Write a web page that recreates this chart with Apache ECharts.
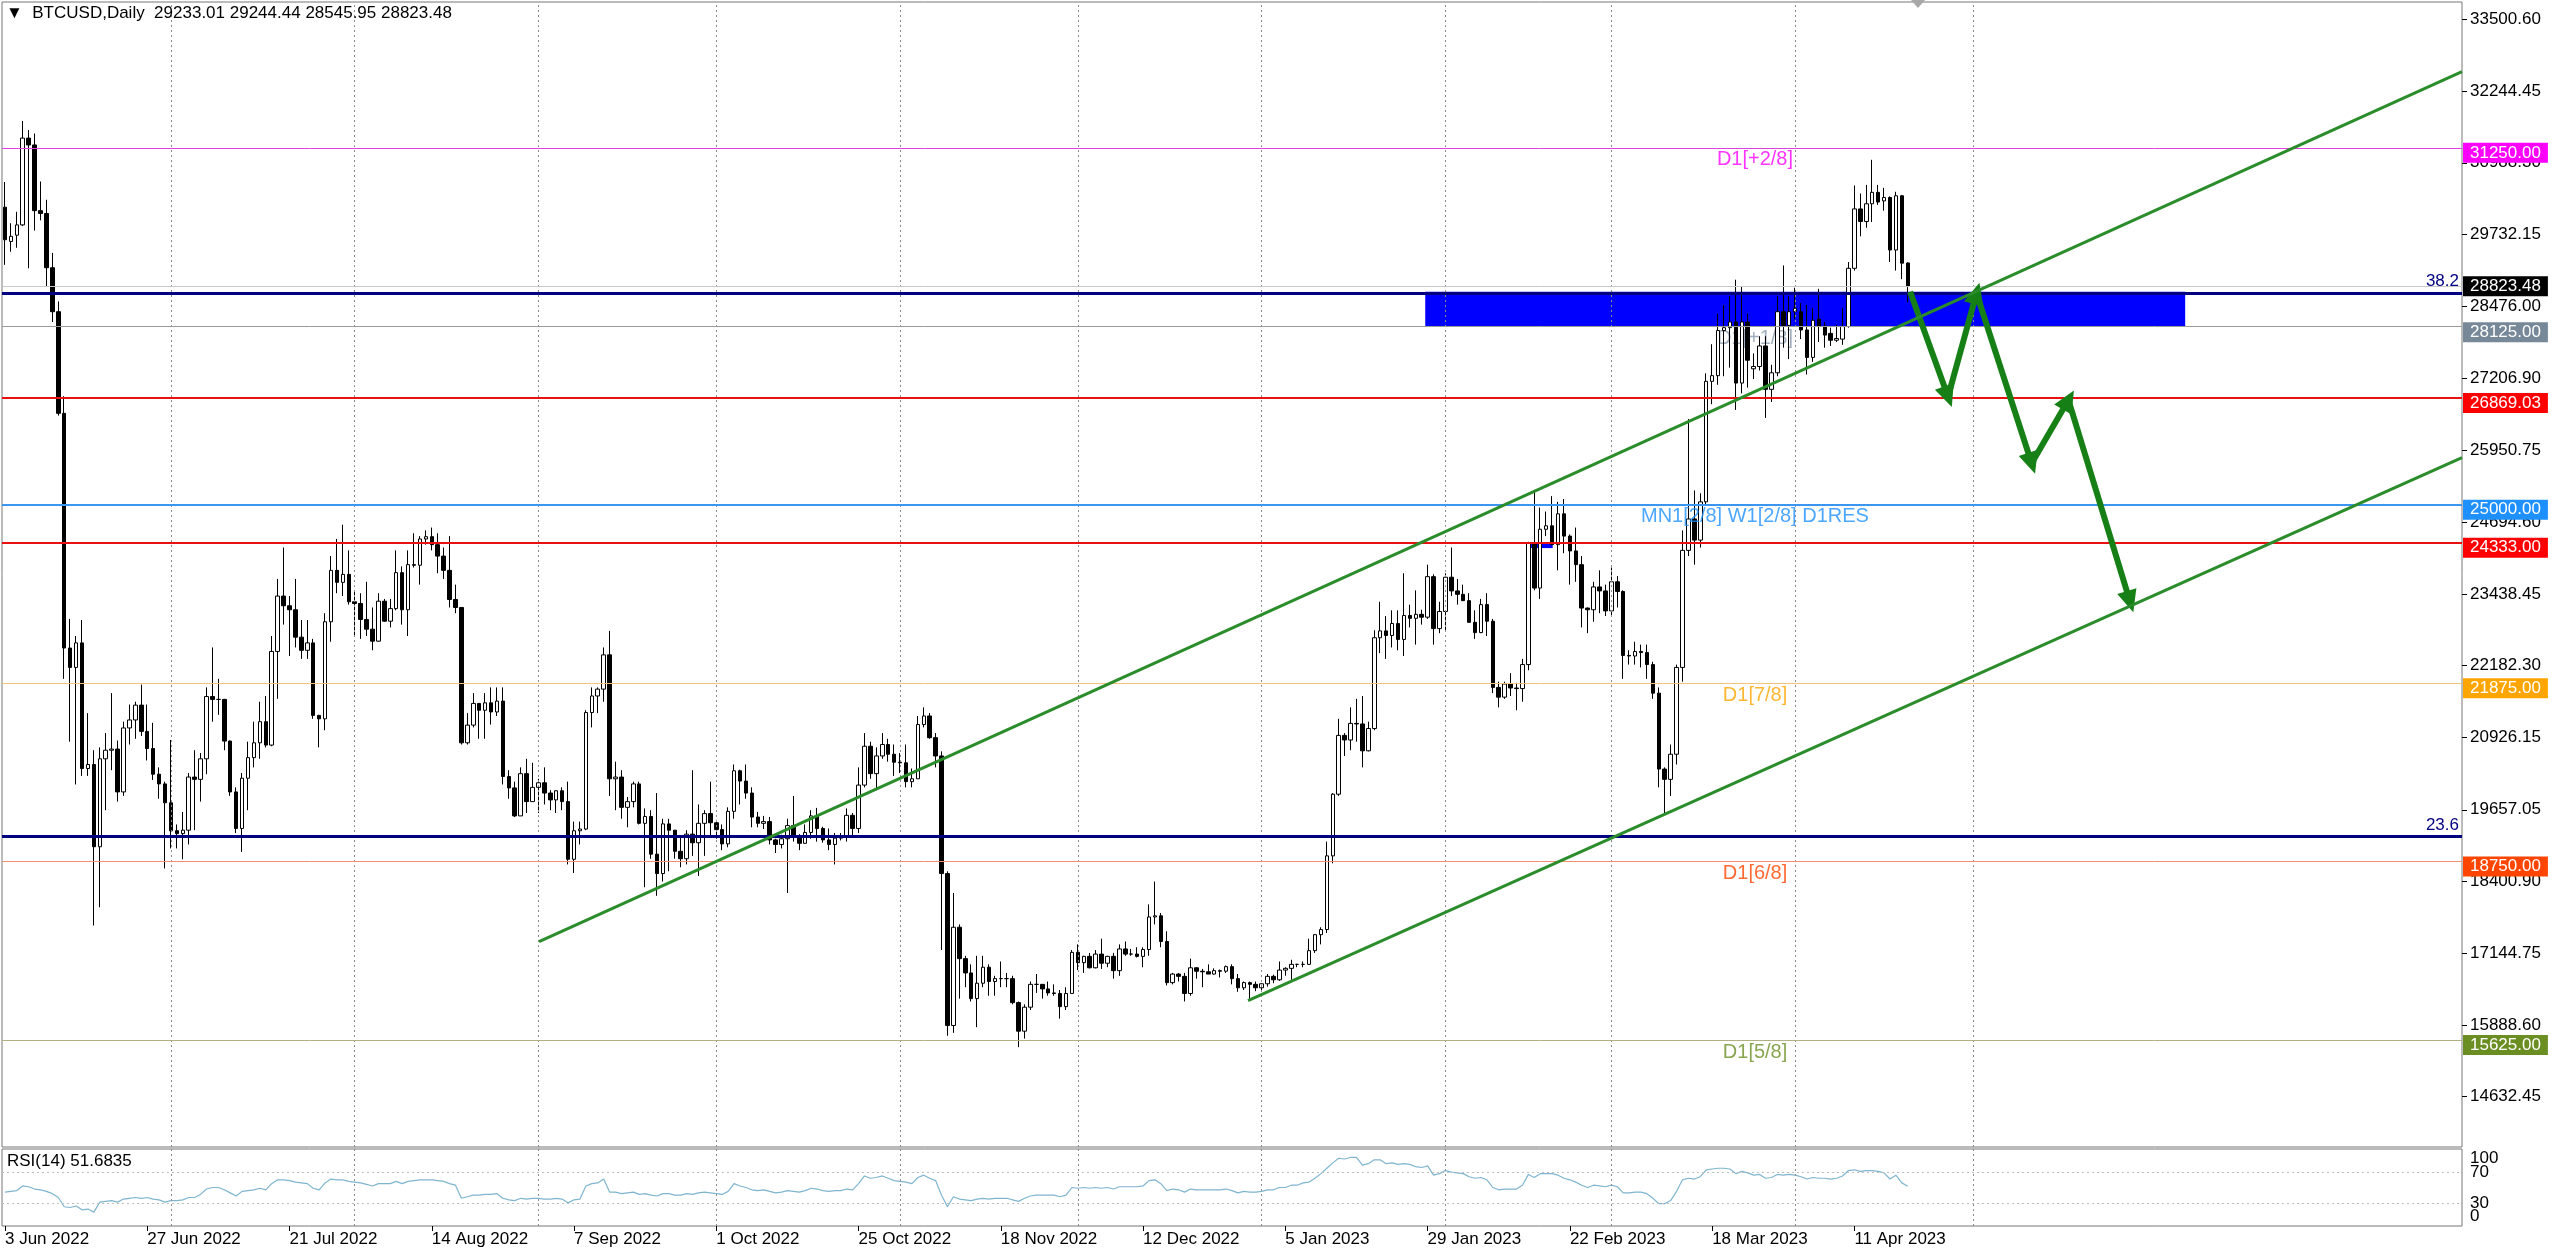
<!DOCTYPE html>
<html><head><meta charset="utf-8">
<script src="https://cdn.jsdelivr.net/npm/echarts@6/dist/echarts.min.js"></script>
<style>html,body{margin:0;padding:0;background:#fff;overflow:hidden}#c{width:2560px;height:1252px}</style>
</head><body><div id="c"></div>
<script>
// ---------------- DATA ----------------
const startDate = '2022-06-03';
const totalDays = 415;          // categories on the time axis (daily, incl. empty future space)
const xTickLabels = ['3 Jun 2022','27 Jun 2022','21 Jul 2022','14 Aug 2022','7 Sep 2022','1 Oct 2022','25 Oct 2022','18 Nov 2022','12 Dec 2022','5 Jan 2023','29 Jan 2023','22 Feb 2023','18 Mar 2023','11 Apr 2023'];
const priceTicks = [33500.60,32244.45,30988.30,29732.15,28476.00,27206.90,25950.75,24694.60,23438.45,22182.30,20926.15,19657.05,18400.90,17144.75,15888.60,14632.45];
const rsiMidTicks = [30,70];
const rsiEndTicks = [0,100];
const monthStarts = [28,59,90,120,151,181,212,243,271,302,332];
// daily candles [open, high, low, close]
const candles = [
[30210,30650,29200,29640],[29610,29930,29430,29700],[29720,30130,29500,29900],[29900,31720,29880,31420],[31420,31560,29140,31300],
[31300,31500,29800,30150],[30150,30660,29980,30100],[30100,30340,28820,29150],[29150,29410,28200,28380],[28380,28560,26560,26600],
[26600,26900,21950,22490],[22490,23000,20850,22150],[22150,22700,20100,22580],[22580,22980,20250,20380],[20380,21350,20250,20450],
[20450,20700,17630,19010],[19010,20750,17950,20550],[20550,21000,19650,20700],[20700,21700,20350,20720],[20720,20870,19800,19970],
[19970,21200,19900,21090],[21090,21500,20800,21230],[21230,21550,20900,21490],[21490,21850,20950,21030],[21030,21500,20520,20730],
[20730,21180,20180,20280],[20280,20400,19850,20110],[20110,20150,18630,19780],[19780,20880,18980,19290],[19290,19400,18980,19240],
[19240,19620,18790,19300],[19300,20300,19050,20230],[20230,20700,19300,20190],[20190,20650,19800,20550],[20550,21800,20280,21640],
[21640,22500,21200,21590],[21590,21950,21320,21590],[21590,21600,20700,20860],[20860,20870,19900,19970],[19970,20050,19250,19330],
[19330,20300,18920,20210],[20210,20850,19650,20570],[20570,21200,20400,20830],[20830,21550,20550,21200],[21200,21650,20750,20790],
[20790,22700,20770,22430],[22430,23700,21600,23400],[23400,24250,22900,23230],[23230,23400,22350,23160],[23160,23700,22500,22680],
[22680,22980,22300,22450],[22450,22980,22300,22580],[22580,22650,21250,21310],[21310,21320,20750,21250],[21250,23100,21050,22950],
[22950,24100,22600,23850],[23850,24400,23450,23640],[23640,24650,23400,23780],[23780,24200,23250,23300],[23300,23470,22700,23270],
[23270,23450,22650,22990],[22990,23650,22700,22820],[22820,23200,22450,22610],[22610,23450,22600,23310],[23310,23350,22950,22960],
[22960,23350,22850,23180],[23180,24200,23150,23810],[23810,23920,22900,23160],[23160,24200,22700,23950],[23950,24500,23900,23940],
[23940,24450,23600,24400],[24400,24550,24300,24440],[24440,24600,24200,24300],[24300,24500,23800,24100],[24100,24250,23700,23850],
[23850,24450,23200,23340],[23340,23600,23100,23200],[23200,23200,20800,20830],[20830,21350,20800,21140],[21140,21700,21100,21520],
[21520,21520,20900,21400],[21400,21700,20900,21530],[21530,21800,21150,21370],[21370,21800,21300,21560],[21560,21800,20100,20240],
[20240,20350,19850,20040],[20040,20150,19530,19550],[19550,20400,19550,20290],[20290,20550,19600,19800],[19800,20480,19800,20050],
[20050,20200,19600,20130],[20130,20400,19750,19950],[19950,20000,19650,19830],[19830,20000,19600,19990],[19990,20050,19650,19800],
[19800,20150,18700,18790],[18790,19450,18550,19290],[19290,19450,19050,19320],[19320,21400,19300,21360],[21360,21800,21100,21650],
[21650,21800,21350,21770],[21770,22500,21550,22370],[22370,22790,19900,20200],[20200,20500,19650,20230],[20230,20350,19500,19700],
[19700,19880,19350,19800],[19800,20150,19700,20110],[20110,20150,19400,19420],[19420,19680,18300,19540],[19540,19650,18800,18880],
[18880,19950,18150,18540],[18540,19500,18400,19410],[19410,19500,18580,19300],[19300,19300,18800,18930],[18930,19200,18650,18800],
[18800,19300,18700,19230],[19230,20350,18850,19080],[19080,19750,18500,19420],[19420,19650,18850,19590],[19590,20150,19200,19430],
[19430,19480,19150,19310],[19310,19400,18950,19060],[19060,19700,19000,19630],[19630,20450,19500,20340],[20340,20360,19750,20160],
[20160,20450,19850,19950],[19950,20050,19350,19530],[19530,19620,19350,19420],[19420,19550,19320,19450],[19450,19530,19050,19130],
[19130,19150,18900,19050],[19050,19220,18980,19150],[19150,19500,18200,19380],[19380,19900,19100,19180],[19180,19230,18950,19070],
[19070,19400,19060,19260],[19260,19650,19150,19550],[19550,19690,19100,19330],[19330,19360,19080,19130],[19130,19330,18950,19050],
[19050,19250,18700,19160],[19160,19250,19120,19200],[19200,19680,19100,19560],[19560,19600,19200,19330],[19330,20400,19250,20090],
[20090,21000,20050,20770],[20770,20850,20200,20290],[20290,20750,20000,20600],[20600,21000,20550,20800],[20800,20900,20500,20630],
[20630,20800,20250,20490],[20490,20650,20300,20480],[20480,20800,20050,20150],[20150,20380,20050,20200],[20200,21300,20200,21150],
[21150,21450,21100,21300],[21300,21350,20900,20920],[20920,21000,20400,20600],[20600,20680,17200,18540],[18540,18580,15700,15880],
[15880,18200,15750,17600],[17600,17650,16350,17050],[17050,17100,16550,16800],[16800,16950,16300,16350],[16350,17100,15850,16620],
[16620,17100,16550,16900],[16900,16950,16400,16650],[16650,16750,16400,16700],[16700,17000,16550,16700],[16700,16800,16550,16700],
[16700,16750,16250,16280],[16280,16300,15500,15780],[15780,16250,15650,16200],[16200,16650,16150,16600],[16600,16780,16450,16600],
[16600,16600,16350,16520],[16520,16650,16400,16450],[16450,16600,16400,16440],[16440,16500,16000,16210],[16210,16550,16150,16440],
[16440,17200,16440,17160],[17160,17300,16850,16980],[16980,17100,16800,17090],[17090,17150,16880,16890],[16890,17200,16880,17130],
[17130,17400,16870,16970],[16970,17100,16900,17090],[17090,17150,16700,16840],[16840,17300,16750,17220],[17220,17350,17100,17130],
[17130,17220,17100,17130],[17130,17250,17070,17090],[17090,17250,16900,17210],[17210,18000,17100,17780],[17780,18400,17650,17800],
[17800,17850,17250,17350],[17350,17530,16580,16630],[16630,16800,16600,16780],[16780,16800,16650,16740],[16740,16800,16300,16440],
[16440,17050,16400,16890],[16890,16900,16700,16830],[16830,16870,16550,16820],[16820,16950,16780,16780],[16780,16880,16770,16840],
[16840,16860,16720,16830],[16830,16930,16800,16910],[16910,16950,16600,16700],[16700,16780,16470,16540],[16540,16650,16500,16630],
[16630,16650,16330,16600],[16600,16650,16480,16540],[16540,16620,16500,16610],[16610,16780,16560,16740],[16740,16770,16620,16680],
[16680,17000,16660,16850],[16850,16900,16750,16880],[16880,17030,16680,16950],[16950,16960,16900,16950],[16950,17000,16900,16950],
[16950,17400,16940,17190],[17190,17480,17150,17470],[17470,17600,17300,17560],[17560,19100,17500,18850],[18850,19950,18720,19930],
[19930,21250,19900,20960],[20960,21000,20600,20880],[20880,21450,20700,21170],[21170,21600,20850,21160],[21160,21650,20400,20690],
[20690,21200,20680,21080],[21080,22800,21050,22670],[22670,23300,22400,22790],[22790,23050,22300,22710],[22710,23150,22500,22920],
[22920,23150,22450,22640],[22640,23800,22350,23060],[23060,23250,22850,23010],[23010,23500,22550,23080],[23080,23160,22900,23030],
[23030,23950,23000,23740],[23740,23780,22550,22830],[22830,23300,22750,23130],[23130,23800,22800,23730],[23730,24250,23400,23490],
[23490,23700,23250,23430],[23430,23600,23350,23320],[23320,23450,22950,22940],[22940,23150,22650,22760],[22760,23350,22750,23250],
[23250,23450,22700,22960],[22960,23000,21700,21800],[21800,21900,21450,21630],[21630,21900,21600,21860],[21860,22050,21650,21790],
[21790,21880,21400,21780],[21780,22300,21550,22200],[22200,24350,22100,24330],[24330,25250,23500,23540],[23540,24950,23350,24570],
[24570,24880,24450,24630],[24630,25150,24300,24300],[24300,25050,23850,24840],[24840,25100,24150,24450],[24450,24480,23600,24190],
[24190,24600,23650,23950],[23950,24100,22850,23190],[23190,23200,22750,23160],[23160,23650,22950,23560],[23560,23850,23100,23490],
[23490,23600,23050,23140],[23140,23900,23050,23650],[23650,23750,23200,23480],[23480,23500,21950,22360],[22360,22450,22200,22350],
[22350,22600,22200,22430],[22430,22550,22150,22410],[22410,22550,21950,22200],[22200,22250,21600,21700],[21700,21800,20050,20370],
[20370,20400,19600,20190],[20190,20800,19900,20630],[20630,22200,20450,22150],[22150,24550,21900,24200],[24200,26500,24100,24750],
[24750,25250,23950,24380],[24380,25200,24250,25050],[25050,27300,25000,27160],[27160,27810,26760,27260],[27260,28350,27100,28050],
[28050,28500,27250,28100],[28100,28650,27400,28200],[28200,28940,26660,27130],[27130,28820,26950,28200],[28200,28350,27050,27530],
[27380,27650,27200,27420],[27420,27950,27350,27780],[27780,27950,26520,27020],[27020,27450,26800,27310],[27310,28650,27250,28380],
[28380,29190,27750,28140],[28140,28650,27550,28380],[28380,28800,28250,28440],[28380,28530,27900,28060],[28060,28500,27280,27580],
[27580,28450,27500,28230],[28250,28780,27850,28130],[28130,28200,27750,27970],[28000,28100,27780,27880],[27880,28150,27850,27910],
[27900,28450,27800,28120],[28120,29250,28100,29140],[29140,30590,29100,30180],[30180,30450,29700,29960],[29960,30600,29850,30270],
[30270,31040,29950,30470],[30470,30600,30250,30300],[30320,30550,30150,30380],[30380,30400,29250,29460],[29460,30480,29100,30410],
[30410,30420,28950,29230],[29233.01,29244.44,28545.95,28823.48]
];
const rsi = [
44,45,46,52,51,48,47,45,42,37, 25,24,26,21,22,18,31,32,33,31, 35,36,37,36,37,35,34,31,33,33,
34,37,37,41,48,50,50,47,43,39, 45,46,47,49,47,55,60,60,59,57, 56,55,49,47,56,61,60,60,58,57,
56,54,52,55,55,55,58,55,58,59, 60,60,60,59,58,55,53,36,38,40, 40,41,41,42,36,34,33,36,35,36,
36,35,35,36,35,30,34,35,52,55, 56,61,44,44,42,43,44,41,42,40, 39,42,42,40,40,42,41,43,44,43,
42,41,45,55,52,50,47,46,47,45, 43,44,46,45,44,46,49,48,46,45, 46,46,48,47,55,65,62,63,65,62,
59,58,57,55,63,66,62,59,40,25, 38,35,34,33,35,36,35,36,36,36, 34,32,36,39,40,40,40,40,38,40,
50,49,50,49,50,49,50,48,51,51, 51,51,52,59,60,55,46,48,47,44, 48,47,47,47,47,47,48,46,43,45,
44,44,45,47,47,50,50,53,53,56, 57,62,68,75,82,88,87,89,89,79, 81,86,86,81,82,80,81,80,77,76,
78,66,68,72,70,69,68,64,62,63, 60,50,47,48,48,48,53,67,63,68, 68,68,66,62,60,57,53,50,53,52,
51,53,51,43,43,44,44,42,36,29, 29,33,45,60,62,61,64,73,74,75, 75,74,68,71,69,66,67,62,63,67,
66,67,66,64,61,63,62,62,61,62, 65,72,73,71,72,72,71,69,61,66, 56,51.68
];
// horizontal levels
const levelPrices = {mm2: 31250, bid: 28823.48, fib382: 28707, mm1: 28125, res1: 26869.03, mm8: 25000, res2: 24333, mm7: 21875, fib236: 19186, mm6: 18750, mm5: 15625};
// blue zones [dayFrom, priceTop, dayTo, priceBottom]
const zoneBig = [239.6, 28730, 367.8, 28130];
const zoneSmall = [257.3, 24333, 261.1, 24240];
// channel lines [day, price]
const trendUpper = [[90.1, 17350], [414.5, 32585]];
const trendLower = [[209.7, 16314], [414.5, 25825]];
// projected zig-zag path [day, price]
const zigzag = [[321.4, 28730], [327.8, 26892], [332.6, 28702], [341.9, 25725], [348.1, 26834], [358.5, 23302]];
// level captions [day, price, text]
const captions = [
  [288.8, 31250, 'D1[+2/8]'],
  [288.8, 28125, 'D1[+1/8]'],
  [276.0, 25000, 'MN1[2/8] W1[2/8] D1RES'],
  [289.8, 21875, 'D1[7/8]'],
  [289.8, 18750, 'D1[6/8]'],
  [289.8, 15625, 'D1[5/8]']
];

// ---------------- STYLE / BUILD ----------------
const FONT = '"Liberation Sans", Arial, sans-serif';
const dates = [];
{ const t0 = Date.parse(startDate + 'T00:00:00Z'); for (let i = 0; i < totalDays; i++) dates.push(new Date(t0 + i * 86400000).toISOString().slice(0, 10)); }
const tickFn = (i) => i % 24 === 0 && i / 24 < xTickLabels.length;
const capColors = ['#ff00ff', '#8a9aae', '#1e90ff', '#ffa500', '#ff4500', '#6b8e23'];

function boxLabel(text, bg, dy) {
  return {show: true, position: 'end', formatter: text, backgroundColor: bg, color: '#fff', fontSize: 17, fontFamily: FONT,
    padding: [2, 7, 1, 7], lineHeight: 17, distance: 1, offset: [0, dy]};
}
function hLine(val, color, width, label) {
  return {yAxis: val, lineStyle: {color: color, width: width, type: 'solid'}, label: label || {show: false}};
}
const L = levelPrices;
const levelLines = [
  hLine(L.mm2, '#e040e0', 1, boxLabel(L.mm2.toFixed(2), '#ff00ff', 5)),
  hLine(L.bid, '#c8c8c8', 1, boxLabel(L.bid.toFixed(2), '#000000', 0)),
  hLine(L.fib382, '#000080', 3, {show: true, position: 'insideEndTop', formatter: '38.2', color: '#000080', fontSize: 17, fontFamily: FONT, distance: 3}),
  hLine(L.mm1, '#9a9a9a', 1, boxLabel(L.mm1.toFixed(2), '#778899', 6)),
  hLine(L.res1, '#e81010', 2, boxLabel(L.res1.toFixed(2), '#ff0000', 5)),
  hLine(L.mm8, '#3a96f0', 2, boxLabel(L.mm8.toFixed(2), '#1e90ff', 5)),
  hLine(L.res2, '#e81010', 2, boxLabel(L.res2.toFixed(2), '#ff0000', 5)),
  hLine(L.mm7, '#f3c27a', 1, boxLabel(L.mm7.toFixed(2), '#ffa500', 5)),
  hLine(L.fib236, '#000080', 3, {show: true, position: 'insideEndTop', formatter: '23.6', color: '#000080', fontSize: 17, fontFamily: FONT, distance: 3}),
  hLine(L.mm6, '#f09070', 1, boxLabel(L.mm6.toFixed(2), '#ff4500', 5)),
  hLine(L.mm5, '#b0b080', 1, boxLabel(L.mm5.toFixed(2), '#6b8e23', 5))
];
const vLines = monthStarts.map(d => ({xAxis: d}));
const zigSegments = [];
for (let i = 0; i < zigzag.length - 1; i++) zigSegments.push([{coord: zigzag[i]}, {coord: zigzag[i + 1]}]);
const hiddenAxisLine = {show: false, onZero: false};

const chart = echarts.init(document.getElementById('c'), null, {renderer: 'canvas'});
chart.setOption({
  animation: false,
  backgroundColor: '#ffffff',
  textStyle: {fontFamily: FONT},
  title: [
    {text: '\u25BC  BTCUSD,Daily  29233.01 29244.44 28545.95 28823.48', left: 6, top: 5, padding: 0,
      textStyle: {fontSize: 17, fontWeight: 'normal', fontFamily: FONT, color: '#000'}},
    {text: 'RSI(14) 51.6835', left: 7, top: 1153, padding: 0,
      textStyle: {fontSize: 17, fontWeight: 'normal', fontFamily: FONT, color: '#000'}}
  ],
  grid: [
    {left: 2, right: 98, top: 2, height: 1145, show: true, borderColor: '#777', borderWidth: 1, backgroundColor: 'transparent'},
    {left: 2, right: 98, top: 1149, height: 77, show: true, borderColor: '#777', borderWidth: 1, backgroundColor: 'transparent'}
  ],
  xAxis: [
    {type: 'category', gridIndex: 0, data: dates, boundaryGap: true, axisLine: hiddenAxisLine, axisTick: {show: false}, axisLabel: {show: false}, splitLine: {show: false}},
    {type: 'value', gridIndex: 0, min: -0.5, max: totalDays - 0.5, show: false, axisLine: hiddenAxisLine},
    {type: 'category', gridIndex: 1, data: dates, boundaryGap: true, axisLine: hiddenAxisLine,
      axisTick: {show: true, alignWithLabel: true, interval: tickFn, length: 5, lineStyle: {color: '#000'}},
      axisLabel: {interval: tickFn, formatter: (v, i) => xTickLabels[Math.round(i / 24)], align: 'left', fontSize: 17, fontFamily: FONT, color: '#000', margin: 5},
      splitLine: {show: false}},
    {type: 'value', gridIndex: 1, min: -0.5, max: totalDays - 0.5, show: false, axisLine: hiddenAxisLine}
  ],
  yAxis: [
    {type: 'value', gridIndex: 0, position: 'right', min: 13751.5, max: 33803.6, splitLine: {show: false}, axisLine: hiddenAxisLine,
      axisTick: {show: true, customValues: priceTicks, length: 5, lineStyle: {color: '#000'}},
      axisLabel: {customValues: priceTicks, formatter: v => v.toFixed(2), fontSize: 17, fontFamily: FONT, color: '#000', margin: 8}},
    {type: 'value', gridIndex: 1, position: 'right', min: 0, max: 100, splitLine: {show: false}, axisLine: hiddenAxisLine,
      axisTick: {show: false},
      axisLabel: {customValues: rsiMidTicks, formatter: v => String(v), fontSize: 17, fontFamily: FONT, color: '#000', margin: 8}},
    // same RSI pane: the 0 / 100 captions sit inside the pane edges as in the terminal
    {type: 'value', gridIndex: 1, position: 'right', min: -16.67, max: 116.67, splitLine: {show: false}, axisLine: hiddenAxisLine,
      axisTick: {show: false},
      axisLabel: {customValues: rsiEndTicks, formatter: v => String(v), fontSize: 17, fontFamily: FONT, color: '#000', margin: 8}}
  ],
  series: [
    { // background: month grid lines, zones, level lines
      type: 'line', xAxisIndex: 1, yAxisIndex: 0, data: [], z: 1, silent: true,
      markArea: {silent: true, itemStyle: {color: '#0000ff', opacity: 1},
        data: [[{coord: [zoneBig[0], zoneBig[1]]}, {coord: [zoneBig[2], zoneBig[3]]}],
               [{coord: [zoneSmall[0], zoneSmall[1]]}, {coord: [zoneSmall[2], zoneSmall[3]]}]]},
      markLine: {silent: true, symbol: ['none', 'none'], label: {show: false},
        lineStyle: {color: '#8c8c8c', width: 1, type: [2, 3]}, data: vLines.concat(levelLines)}
    },
    { // caption behind candles
      type: 'scatter', xAxisIndex: 1, yAxisIndex: 0, z: 1, symbolSize: 0, silent: true,
      data: [captions[1]].map(c => ({value: [c[0], c[1]], label: {show: true, position: 'right', distance: 0, offset: [0, 12], formatter: c[2], color: capColors[1], fontSize: 20, fontFamily: FONT}}))
    },
    {
      type: 'candlestick', xAxisIndex: 0, yAxisIndex: 0, z: 3, barWidth: 4,
      data: candles.map(c => [c[0], c[3], c[2], c[1]]),
      itemStyle: {color: '#ffffff', color0: '#000000', borderColor: '#000000', borderColor0: '#000000', borderWidth: 1}
    },
    {
      type: 'line', xAxisIndex: 1, yAxisIndex: 0, z: 5, data: trendUpper, symbol: 'none', silent: true,
      lineStyle: {color: '#2a8c2a', width: 3}
    },
    {
      type: 'line', xAxisIndex: 1, yAxisIndex: 0, z: 5, data: trendLower, symbol: 'none', silent: true,
      lineStyle: {color: '#2a8c2a', width: 3}
    },
    { // projected path arrows
      type: 'line', xAxisIndex: 1, yAxisIndex: 0, data: [], z: 6, silent: true,
      markLine: {silent: true, symbol: ['none', 'triangle'], symbolSize: [20, 22], label: {show: false},
        lineStyle: {color: '#168016', width: 6, type: 'solid'}, data: zigSegments}
    },
    { // captions
      type: 'scatter', xAxisIndex: 1, yAxisIndex: 0, z: 7, symbolSize: 0, silent: true,
      data: captions.filter((c, i) => i !== 1).map((c) => ({value: [c[0], c[1]], label: {show: true, position: 'right', distance: 0, offset: [0, 12], formatter: c[2],
        color: capColors[captions.indexOf(c)], fontSize: 20, fontFamily: FONT}}))
    },
    { // RSI month lines
      type: 'line', xAxisIndex: 3, yAxisIndex: 1, data: [], silent: true,
      markLine: {silent: true, symbol: ['none', 'none'], label: {show: false}, lineStyle: {color: '#8c8c8c', width: 1, type: [2, 3]}, data: vLines}
    },
    {
      type: 'line', xAxisIndex: 2, yAxisIndex: 1, data: rsi, symbol: 'none', silent: true, z: 4,
      lineStyle: {color: '#7fb5cf', width: 1.2},
      markLine: {silent: true, symbol: ['none', 'none'], label: {show: false}, lineStyle: {color: '#bdbdbd', width: 1, type: [2, 3]},
        data: [{yAxis: 70}, {yAxis: 30}]}
    }
  ],
  graphic: [
    {type: 'polygon', shape: {points: [[1911, 0], [1925, 0], [1918, 8]]}, style: {fill: '#a8a8a8'}, silent: true}
  ]
});
</script>
</body></html>
